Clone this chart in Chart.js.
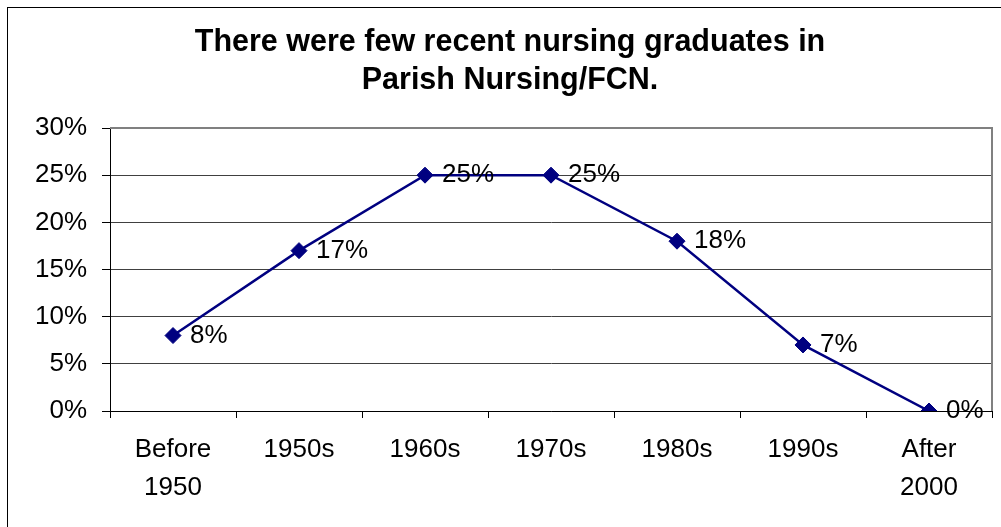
<!DOCTYPE html>
<html>
<head>
<meta charset="utf-8">
<script src="https://cdn.jsdelivr.net/npm/chart.js@4"></script>
<style>
  html, body { margin: 0; padding: 0; background: #fff; }
  #wrap { width: 1001px; height: 527px; }
</style>
</head>
<body>
<div id="wrap"><canvas id="nursing"></canvas></div>
<script>
const decades = [['Before', '1950'], '1950s', '1960s', '1970s', '1980s', '1990s', ['After', '2000']];
const shares = [8, 17, 25, 25, 18, 7, 0];
const titleLines = ['There were few recent nursing graduates in', 'Parish Nursing/FCN.'];

const FONT = "'Liberation Sans', Arial, sans-serif";

// white page, outer frame, grey plot border on the right/top, title
const frame = {
  id: 'frame',
  beforeDraw(chart) {
    const c = chart.ctx;
    c.save();
    c.fillStyle = '#fff';
    c.fillRect(0, 0, chart.width, chart.height);
    c.strokeStyle = '#000';
    c.lineWidth = 1;
    c.strokeRect(7.5, 7.5, chart.width + 20, chart.height + 20);
    // title sits a bit right of the canvas centre, as in the original
    c.fillStyle = '#000';
    c.font = 'bold 30.5px ' + FONT;
    c.textAlign = 'center';
    c.textBaseline = 'middle';
    titleLines.forEach((t, i) => c.fillText(t, 510, 43 + i * 38));
    c.restore();
  },
  afterDatasetsDraw(chart) {
    const a = chart.chartArea;
    const c = chart.ctx;
    c.save();
    c.strokeStyle = '#808080';
    c.lineWidth = 2;
    c.beginPath();
    c.moveTo(a.left, a.top);
    c.lineTo(a.right, a.top);
    c.lineTo(a.right, a.bottom);
    c.stroke();
    c.restore();
  }
};

// percent labels to the right of each point
const pointLabels = {
  id: 'pointLabels',
  afterDatasetsDraw(chart) {
    const c = chart.ctx;
    const meta = chart.getDatasetMeta(0);
    c.save();
    c.font = '26px ' + FONT;
    c.fillStyle = '#000';
    c.textAlign = 'left';
    c.textBaseline = 'middle';
    meta.data.forEach((pt, i) => {
      c.fillText(shares[i] + '%', pt.x + 17, pt.y);
    });
    c.restore();
  }
};

new Chart(document.getElementById('nursing'), {
  type: 'line',
  data: {
    labels: decades,
    datasets: [{
      data: shares,
      borderColor: '#000080',
      backgroundColor: '#000080',
      borderWidth: 2.5,
      pointStyle: 'rectRot',
      pointRadius: 8,
      pointBorderWidth: 1,
      tension: 0
    }]
  },
  plugins: [frame, pointLabels],
  options: {
    responsive: true,
    maintainAspectRatio: false,
    animation: false,
    layout: { padding: { left: 0, right: 9, top: 128, bottom: 0 } },
    plugins: {
      legend: { display: false },
      tooltip: { enabled: false },
      title: { display: false }
    },
    scales: {
      x: {
        offset: true,
        afterFit(s) { s.height = 116; },
        grid: { offset: true, drawOnChartArea: false, drawTicks: true, tickLength: 7, color: '#000' },
        border: { color: '#000', width: 1 },
        ticks: { color: '#000', padding: 13, maxRotation: 0, font: { family: FONT, size: 26, lineHeight: 1.46 } }
      },
      y: {
        min: 0,
        max: 30,
        afterFit(s) { s.width = 110; },
        grid: {
          color: ctx => ctx.tick && ctx.tick.value === 30 ? '#808080' : '#404040',
          tickColor: '#000',
          tickLength: 8
        },
        border: { color: '#000', width: 1 },
        ticks: {
          stepSize: 5,
          color: '#000',
          padding: 15,
          font: { family: FONT, size: 26 },
          callback: v => v + '%'
        }
      }
    }
  }
});
</script>
</body>
</html>
